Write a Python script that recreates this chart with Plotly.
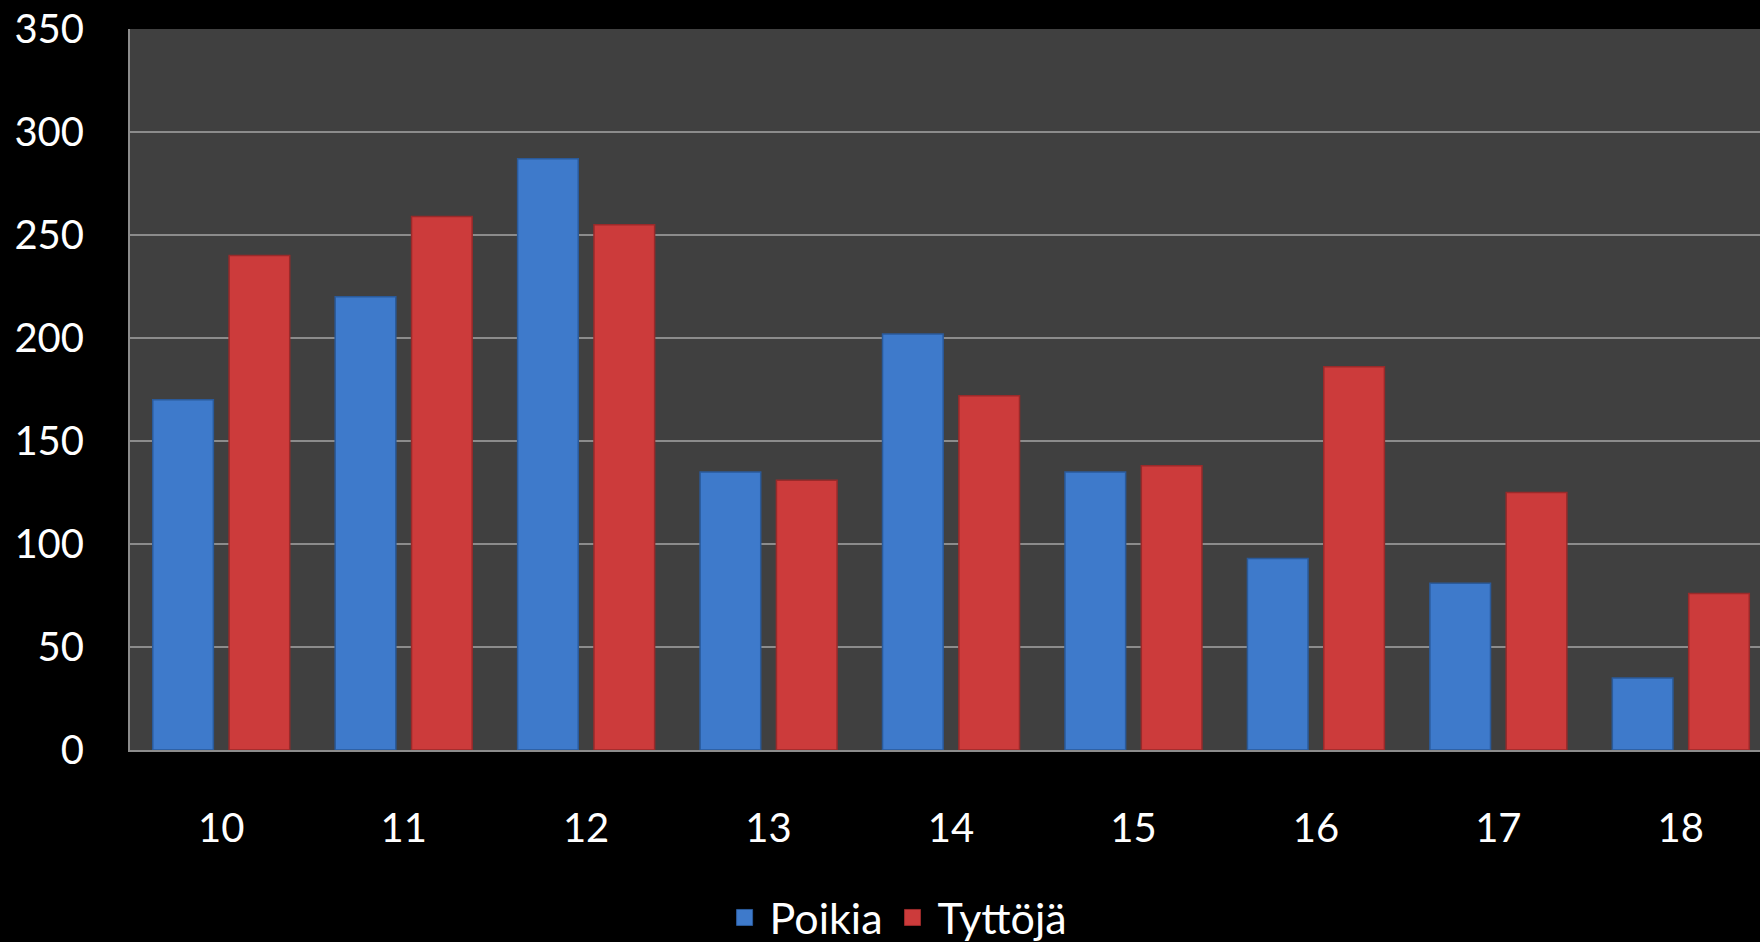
import plotly.graph_objects as go

ages = ["10", "11", "12", "13", "14", "15", "16", "17", "18"]
poikia = [170, 220, 287, 135, 202, 135, 93, 81, 35]
tyttoja = [240, 259, 255, 131, 172, 138, 186, 125, 76]
y_ticks = [0, 50, 100, 150, 200, 250, 300, 350]

blue = "#3E7ACB"
red = "#CC3B3B"

fig = go.Figure()
fig.add_trace(go.Bar(name="Poikia", x=ages, y=poikia, showlegend=False, legendgroup="p",
                     marker=dict(color=blue, line=dict(color="#2A5A9A", width=1.5))))
fig.add_trace(go.Bar(name="Tyttöjä", x=ages, y=tyttoja, showlegend=False, legendgroup="t",
                     marker=dict(color=red, line=dict(color="#992A2A", width=1.5))))
# legend entries with larger square swatches
fig.add_trace(go.Scatter(name="Poikia", x=[None], y=[None], mode="markers", legendgroup="p",
                         marker=dict(symbol="square", size=30, color=blue,
                                     line=dict(color="#2A5A9A", width=1))))
fig.add_trace(go.Scatter(name="Tyttöjä", x=[None], y=[None], mode="markers", legendgroup="t",
                         marker=dict(symbol="square", size=30, color=red,
                                     line=dict(color="#992A2A", width=1))))

font = dict(family="Lato, Open Sans, sans-serif", size=40, color="white")
legend_font = dict(family="Lato, Open Sans, sans-serif", size=43, color="white")
fig.update_layout(
    width=1760, height=942,
    margin=dict(l=130, r=0, t=29, b=192),
    paper_bgcolor="black", plot_bgcolor="#404040",
    barmode="group", bargap=0.163, bargroupgap=0.206,
    font=font,
    showlegend=True,
    legend=dict(orientation="h", x=0.47, xanchor="center", yref="container",
                y=0.026, yanchor="middle", font=legend_font,
                bgcolor="rgba(0,0,0,0)", itemwidth=40, itemsizing="trace"),
    xaxis=dict(range=[-0.5, 8.434], showgrid=False, showline=True, linecolor="#8C8C8C",
               linewidth=2, ticks="outside", ticklen=42, tickcolor="black",
               tickfont=font, fixedrange=True, automargin=False),
    yaxis=dict(range=[0, 350], tickvals=y_ticks, showgrid=True, gridcolor="#8C8C8C",
               gridwidth=2, showline=True, linecolor="#8C8C8C", linewidth=2,
               ticks="outside", ticklen=36, tickcolor="black", tickfont=font,
               zeroline=False, fixedrange=True, automargin=False),
)
fig.write_html("out.html", config={"displayModeBar": False},
               post_script="document.body.style.margin='0';document.body.style.background='black';")
